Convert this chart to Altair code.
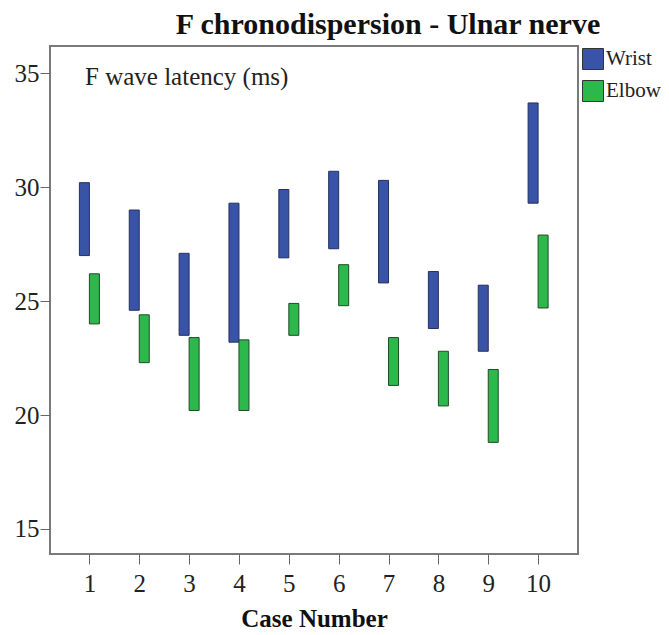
import altair as alt
import pandas as pd

cases = [1, 2, 3, 4, 5, 6, 7, 8, 9, 10]
wrist_low = [27.0, 24.6, 23.5, 23.2, 26.9, 27.3, 25.8, 23.8, 22.8, 29.3]
wrist_high = [30.2, 29.0, 27.1, 29.3, 29.9, 30.7, 30.3, 26.3, 25.7, 33.7]
elbow_low = [24.0, 22.3, 20.2, 20.2, 23.5, 24.8, 21.3, 20.4, 18.8, 24.7]
elbow_high = [26.2, 24.4, 23.4, 23.3, 24.9, 26.6, 23.4, 22.8, 22.0, 27.9]
series = ["Wrist", "Elbow"]
colors = ["#3953a6", "#2db84b"]
y_ticks = [15, 20, 25, 30, 35]

rows = []
for i, c in enumerate(cases):
    rows.append({"case": c, "site": "Wrist", "low": wrist_low[i], "high": wrist_high[i]})
    rows.append({"case": c, "site": "Elbow", "low": elbow_low[i], "high": elbow_high[i]})
df = pd.DataFrame(rows)

FONT = "Liberation Serif"

x = alt.X("case:Q", scale=alt.Scale(domain=[0.31, 10.7], nice=False, zero=False),
          axis=alt.Axis(values=cases, format="d", title="Case Number", grid=False,
                        domain=False, tickSize=10, labelPadding=7, titlePadding=10,
                        labelFontSize=25, titleFontSize=25, titleFontWeight="bold",
                        labelFont=FONT, titleFont=FONT, tickColor="#666",
                        labelColor="#222", titleColor="#111"))
y = alt.Y("low:Q", scale=alt.Scale(domain=[13.9, 36.2], nice=False, zero=False),
          axis=alt.Axis(values=y_ticks, title=None, grid=False, domain=False,
                        tickSize=10, labelPadding=1, labelFontSize=25, labelFont=FONT,
                        tickColor="#666", labelColor="#222"))
color = alt.Color("site:N", scale=alt.Scale(domain=series, range=colors),
                  legend=alt.Legend(title=None, orient="none", legendX=532, legendY=2,
                                    symbolType="square", symbolSize=441,
                                    symbolStrokeColor="#333", symbolStrokeWidth=1,
                                    symbolOpacity=1, labelFont=FONT, labelFontSize=21,
                                    labelColor="#222", labelOffset=2, rowPadding=6))

base = alt.Chart(df).encode(x=x, y=y, y2="high:Q", color=color)
wrist = base.transform_filter(alt.datum.site == "Wrist").mark_bar(
    width=10, xOffset=-5, stroke="#25305e", strokeWidth=1, opacity=1)
elbow = base.transform_filter(alt.datum.site == "Elbow").mark_bar(
    width=10, xOffset=5, stroke="#1f4a28", strokeWidth=1, opacity=1)

label = alt.Chart(pd.DataFrame({"t": ["F wave latency (ms)"]})).mark_text(
    align="left", baseline="middle", font=FONT, fontSize=25, color="#222"
).encode(x=alt.value(35), y=alt.value(31), text="t:N")

chart = alt.layer(wrist, elbow, label).properties(
    width=528, height=508,
    title=alt.Title("F chronodispersion - Ulnar nerve", font=FONT, fontSize=30,
                    fontWeight="bold", color="#111", anchor="middle", dx=74, offset=6),
    autosize=alt.AutoSizeParams(type="none"),
    padding={"left": 42, "top": 38, "right": 83, "bottom": 81},
).configure(background="white").configure_view(stroke="#7a7a7a", strokeWidth=2).configure_text(font=FONT)

chart.save("out.html", embed_options={"renderer": "svg", "actions": False})
